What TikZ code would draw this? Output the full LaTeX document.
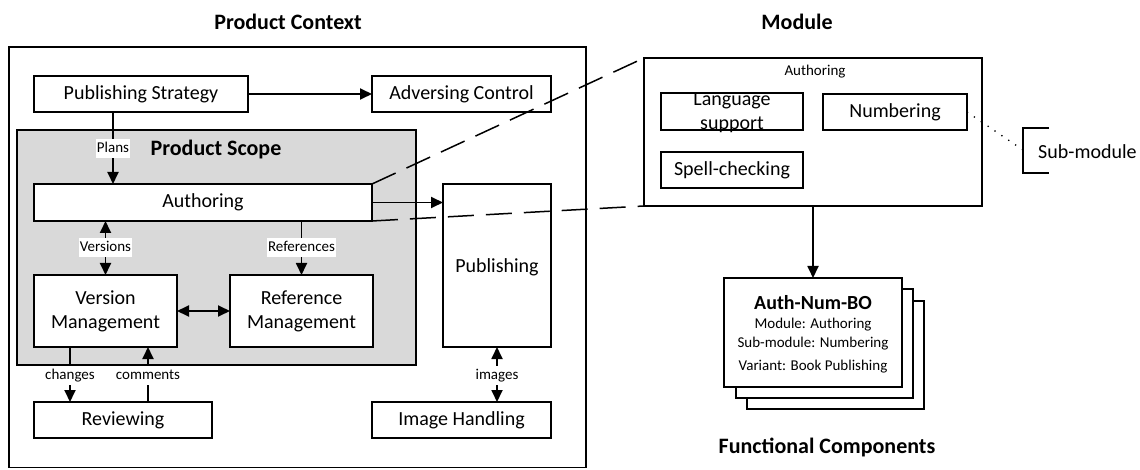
\documentclass[tikz,border=0pt]{standalone}
\usepackage{fontspec}
\setmainfont{Carlito}
\usetikzlibrary{arrows.meta}

\newcommand\txtmain{\fontsize{20}{24}\selectfont}
\newcommand\txtsmall{\fontsize{15}{18}\selectfont}
\newcommand\txthead{\fontsize{22}{26}\selectfont\bfseries}

\begin{document}
\begin{tikzpicture}[x=1pt,y=-1pt,
  line width=1.8pt,
  cbox/.style={draw, fill=white, rectangle, inner sep=0pt, outer sep=0pt,
               font=\txtmain, align=center},
  lbl/.style={fill=white, inner xsep=1pt, inner ysep=3pt, font=\txtsmall,
              text height=10.5pt, text depth=3pt},
  arr/.style={-{Triangle[length=12pt,width=11pt]}},
  dbl/.style={{Triangle[length=12pt,width=11pt]}-{Triangle[length=12pt,width=11pt]}},
  longdash/.style={line width=1.5pt, dash pattern=on 26pt off 12pt},
  sparsedots/.style={line width=1.3pt, dash pattern=on 1.3pt off 7pt},
  heading/.style={font=\txthead}
]
\useasboundingbox (0,0) rectangle (1140,470);

% headings
\node[heading] (tctx) at (288,22) {Product Context};
\node[heading] (tmod) at (797,22) {Module};
\node[heading] (tfc)  at (827,447) {Functional Components};

% product context frame and the shaded product scope
\draw (9,47) rectangle (586,467.5);
\draw[fill=black!15] (17,130) rectangle (416,365);
\node[heading] (tscope) at (216,150) {Product Scope};

% product context blocks
\node[cbox, minimum width=214, minimum height=36] (pubstrat) at (141,94) {Publishing Strategy};
\node[cbox, minimum width=179, minimum height=36] (advctrl) at (461.5,94) {Adversing Control};
\node[cbox, minimum width=338, minimum height=37] (auth) at (203,202.5) {Authoring};
\node[cbox, minimum width=143, minimum height=72] (verm) at (105.5,311) {Version\\Management};
\node[cbox, minimum width=143, minimum height=72] (refm) at (301.5,311) {Reference\\Management};
\node[cbox, minimum width=108, minimum height=163, text depth=0pt] (publ) at (497,265.5) {Publishing};
\node[cbox, minimum width=178, minimum height=36] (review) at (123,420) {Reviewing};
\node[cbox, minimum width=179, minimum height=36] (imgh) at (461.5,420) {Image Handling};

% connector columns
\coordinate (plansx) at (113,0);
\coordinate (chgx) at (70,0);
\coordinate (comx) at (148,0);

% product context connectors
\draw[arr] (pubstrat.east) -- (advctrl.west);
\draw[arr] (pubstrat.south -| plansx) -- (auth.north -| plansx);
\draw[arr] (auth.east) -- (auth.east -| publ.west);
\draw[dbl] (auth.south -| verm.north) -- (verm.north);
\draw[arr] (auth.south -| refm.north) -- (refm.north);
\draw[dbl] (verm.east) -- (refm.west);
\draw[arr] (verm.south -| chgx) -- (review.north -| chgx);
\draw[arr] (review.north -| comx) -- (verm.south -| comx);
\draw[dbl] (publ.south) -- (publ.south |- imgh.north);

% connector labels
\node[lbl] (lplans) at (113,148.5) {Plans};
\node[lbl] (lvers) at (105.5,247.5) {Versions};
\node[lbl] (lrefs) at (301.5,247.5) {References};
\node[lbl] (lchg) at (70,375.5) {changes};
\node[lbl] (lcom) at (148,375.5) {comments};
\node[lbl] (limg) at (497,375.5) {images};

% module
\node[cbox, minimum width=338, minimum height=148] (module) at (813,132) {};
\node[font=\txtsmall] (modname) at (815,72) {Authoring};
\node[cbox, minimum width=142, minimum height=37] (lang) at (732,111.5) {};
\node[font=\txtmain, align=center, inner sep=0pt] (langtxt) at (732,113) {Language\\support};
\node[cbox, minimum width=144, minimum height=36] (numb) at (895,112) {Numbering};
\node[cbox, minimum width=142, minimum height=36] (spell) at (732,170) {Spell-checking};

% sub-module bracket
\coordinate (brtop) at (1049,128);
\coordinate (brmid) at (1023,150);
\coordinate (brbot) at (1049,173);
\draw (brtop) -- (brtop -| brmid) -- (brbot -| brmid) -- (brbot);
\node[font=\txtmain, anchor=west] (subm) at (1034,152) {Sub-module};
\draw[sparsedots] (numb.east) -- (brmid);

% zoom lines from the authoring block to the module
\draw[longdash] (auth.north east) -- (module.north west);
\draw[longdash] (auth.south east) -- (module.south west);

% functional component stack
\node[cbox, minimum width=177, minimum height=108] (card3) at (835.5,355) {};
\node[cbox, minimum width=177, minimum height=109] (card2) at (824.5,343.5) {};
\node[cbox, minimum width=178, minimum height=109] (card1) at (813,332.5) {};
\node[font=\fontsize{20}{24}\selectfont\bfseries] (fcname) at (813,303) {Auth-Num-BO};
\node[font=\txtsmall] (fcmod) at (813,325) {Module: Authoring};
\node[font=\txtsmall] (fcsub) at (813,344) {Sub-module: Numbering};
\node[font=\txtsmall] (fcvar) at (813,367) {Variant: Book Publishing};

\draw[arr] (module.south) -- (card1.north);
\end{tikzpicture}
\end{document}
